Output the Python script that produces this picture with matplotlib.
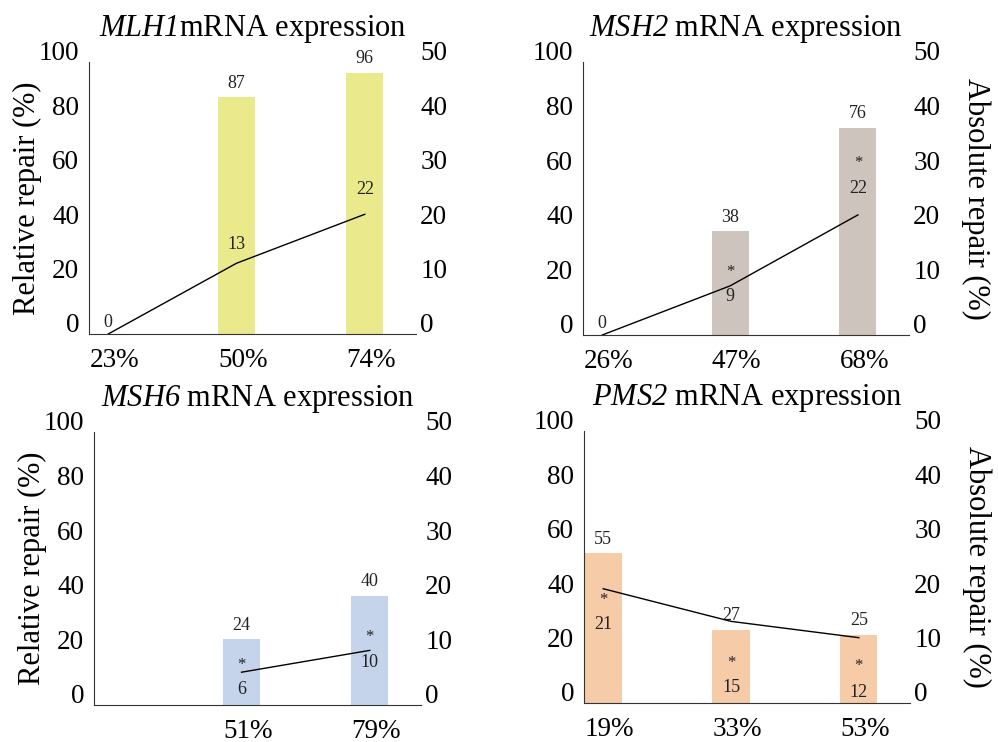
import matplotlib
matplotlib.use('Agg')
import matplotlib.pyplot as plt
import matplotlib.transforms as mtransforms
import numpy as np

plt.rcParams['font.family'] = ['Liberation Serif', 'DejaVu Serif']
plt.rcParams['mathtext.fontset'] = 'custom'
# gene names are written italic, digits included
plt.rcParams['mathtext.rm'] = 'Liberation Serif:italic'
plt.rcParams['mathtext.it'] = 'Liberation Serif:italic'

# data
genes = ['MLH1', 'MSH2', 'MSH6', 'PMS2']
titles = [r'$\mathrm{MLH1}$mRNA expression', r'$\mathrm{MSH2}$ mRNA expression',
          r'$\mathrm{MSH6}$ mRNA expression', r'$\mathrm{PMS2}$ mRNA expression']

mlh1_expr = ['23%', '50%', '74%']
msh2_expr = ['26%', '47%', '68%']
msh6_expr = ['', '51%', '79%']
pms2_expr = ['19%', '33%', '53%']

# relative repair (%) - bars
mlh1_rel = [0, 87, 96]
msh2_rel = [0, 38, 76]
msh6_rel = [np.nan, 24, 40]
pms2_rel = [55, 27, 25]

# absolute repair (%) - line
mlh1_abs = [0, 13, 22]
msh2_abs = [0, 9, 22]
msh6_abs = [np.nan, 6, 10]
pms2_abs = [21, 15, 12]

# significance marks on the absolute values
mlh1_sig = [False, False, False]
msh2_sig = [False, True, True]
msh6_sig = [False, True, True]
pms2_sig = [True, True, True]

colors = ['#EAEA8C', '#CDC5BD', '#C5D4EA', '#F5CBA8']

exprs = [mlh1_expr, msh2_expr, msh6_expr, pms2_expr]
rels = [mlh1_rel, msh2_rel, msh6_rel, pms2_rel]
abss = [mlh1_abs, msh2_abs, msh6_abs, pms2_abs]
sigs = [mlh1_sig, msh2_sig, msh6_sig, pms2_sig]

# where the value / star labels sit (right-axis units)
num_y = [[2.2, 16.4, 26.5], [2.2, 7.0, 26.9], [None, 2.9, 7.8], [14.5, 2.9, 2.0]]
star_y = [[None, None, None], [None, 11.5, 31.5], [None, 7.3, 12.4], [18.9, 7.4, 6.8]]

boxes = [[0.0892, 0.5499, 0.3277, 0.3666],
         [0.5842, 0.5485, 0.3267, 0.3679],
         [0.0942, 0.0499, 0.3277, 0.3679],
         [0.5852, 0.0526, 0.3266, 0.3666]]

fig = plt.figure(figsize=(9.98, 7.42), dpi=100)
x = np.arange(3)
shift_up = mtransforms.ScaledTranslation(0, 8 / 72, fig.dpi_scale_trans)

for i in range(4):
    ax = fig.add_axes(boxes[i])
    ax2 = ax.twinx()
    ax.set_zorder(0)
    ax2.set_zorder(1)

    ax.bar(x, rels[i], width=0.29, color=colors[i], edgecolor='none')
    for xi, v in zip(x, rels[i]):
        if np.isfinite(v) and v > 0:
            ax.annotate(str(v), (xi, v), xytext=(0, 4), textcoords='offset points',
                        ha='center', va='bottom', fontsize=13, color='#222222')

    ax2.plot(x, abss[i], color='black', lw=1)
    for xi, v, ny, sy, s in zip(x, abss[i], num_y[i], star_y[i], sigs[i]):
        if not np.isfinite(v):
            continue
        ax2.text(xi, ny, str(v), ha='center', va='center', fontsize=13, color='#222222')
        if s:
            ax2.text(xi, sy, '*', ha='center', va='center', fontsize=12, color='#222222')

    ax.set_xlim(-0.15, 2.40)
    ax.set_ylim(0, 100)
    ax2.set_ylim(0, 50)
    ax.set_yticks([0, 20, 40, 60, 80, 100])
    ax2.set_yticks([0, 10, 20, 30, 40, 50])
    ax.set_xticks(x + 0.05)
    ax.set_xticklabels(exprs[i])

    for a in (ax, ax2):
        for sp in ('top', 'right', 'left', 'bottom'):
            a.spines[sp].set_visible(False)
        a.tick_params(length=0)
    ax.spines['left'].set_visible(True)
    ax.spines['bottom'].set_visible(True)
    ax.spines['left'].set_color('#333333')
    ax.spines['bottom'].set_color('#333333')

    ax.tick_params(axis='y', labelsize=19.5, pad=7)
    ax2.tick_params(axis='y', labelsize=19.5, pad=3)
    ax.tick_params(axis='x', labelsize=19.5, pad=10)
    for lab in ax.get_yticklabels() + ax2.get_yticklabels():
        lab.set_transform(lab.get_transform() + shift_up)

    ax.set_title(titles[i], fontsize=22, pad=19)
    if i in (0, 2):
        ax.set_ylabel('Relative repair (%)', fontsize=22, labelpad=-2)
    else:
        ax2.set_ylabel('Absolute repair (%)', fontsize=22, rotation=270, labelpad=36)

fig.savefig('out.png', dpi=100)
